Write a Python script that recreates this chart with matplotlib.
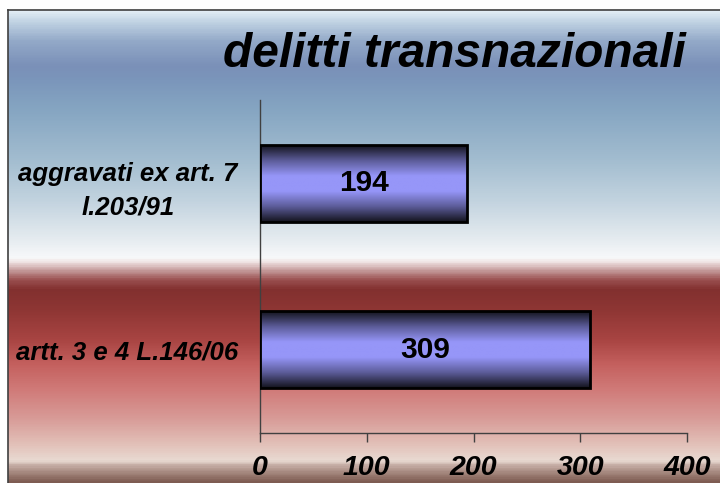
import numpy as np
import matplotlib.pyplot as plt
from matplotlib.colors import LinearSegmentedColormap
from matplotlib.lines import Line2D

categories = ["artt. 3 e 4 L.146/06", "aggravati ex art. 7\nl.203/91"]
values = [309, 194]
xticks = [0, 100, 200, 300, 400]
title = "delitti transnazionali"

W, H = 720, 483
plt.rcParams['font.family'] = ['Liberation Sans', 'DejaVu Sans']
fig = plt.figure(figsize=(W / 100, H / 100), dpi=100)

# background gradient (pixel rows from top of the picture)
bg_stops = [(10, "#e2edf5"), (20, "#c2d4e4"), (40, "#93a9c8"), (65, "#7a90b8"),
            (80, "#7b96bb"), (110, "#86a6c2"), (160, "#a3bdd0"), (200, "#c2d3df"),
            (240, "#e6ecf0"), (258, "#f8f9fa"), (262, "#f0e4e4"), (270, "#c8a0a0"),
            (280, "#9a5050"), (290, "#82302f"), (310, "#8e3634"), (340, "#a84442"),
            (365, "#c4605e"), (390, "#d07a78"), (420, "#d89c98"), (445, "#e2c0b8"),
            (462, "#e9dad2"), (466, "#c8b0a8"), (475, "#a08278"), (483, "#7e5c52")]
bg_cmap = LinearSegmentedColormap.from_list(
    "bg", [((y - 10) / 473, c) for y, c in bg_stops])
bg = fig.add_axes([8 / W, 0, 1 - 8 / W, 1 - 10 / H])
bg.imshow(np.linspace(0, 1, 600).reshape(-1, 1), cmap=bg_cmap, aspect="auto",
          extent=[0, 1, 0, 1], origin="upper")
bg.set_axis_off()
fig.add_artist(Line2D([8 / W, 1], [1 - 10 / H, 1 - 10 / H], color="#404040", lw=1.2))
fig.add_artist(Line2D([8 / W, 8 / W], [0, 1 - 10 / H], color="#404040", lw=1.2))

ax = fig.add_axes([260 / W, (H - 433) / H, 427 / W, 333 / H])
ax.set_facecolor("none")
ypos = np.arange(len(values))
bars = ax.barh(ypos, values, height=0.46, color="none", edgecolor="black",
               linewidth=2, zorder=3)

bar_cmap = LinearSegmentedColormap.from_list(
    "bar", ["#14141e", "#5c5c99", "#9696f8", "#9696f8", "#5c5c99", "#14141e"])
grad = np.linspace(0, 1, 200).reshape(-1, 1)
for b, v in zip(bars, values):
    x0, y0, w, h = b.get_x(), b.get_y(), b.get_width(), b.get_height()
    ax.imshow(grad, cmap=bar_cmap, aspect="auto", extent=[x0, x0 + w, y0, y0 + h],
              zorder=2)
    ax.text(x0 + w / 2, y0 + h / 2, str(v), ha="center", va="center",
            fontsize=21.5, fontweight="bold", zorder=4)

ax.set_xlim(0, 400)
ax.set_ylim(-0.5, 1.5)
ax.set_xticks(xticks)
ax.set_xticklabels([str(t) for t in xticks], fontsize=20.5, fontweight="bold",
                   fontstyle="italic")
ax.set_yticks(ypos)
ax.set_yticklabels(categories, fontsize=18.5, fontweight="bold", fontstyle="italic",
                   multialignment="center", linespacing=1.5)
ax.tick_params(axis="x", direction="out", length=6.5, width=1, color="#404040", pad=9)
ax.tick_params(axis="y", length=0, pad=16)
for s in ["top", "right"]:
    ax.spines[s].set_visible(False)
for s in ["left", "bottom"]:
    ax.spines[s].set_color("#404040")
    ax.spines[s].set_linewidth(1)

fig.text(686 / W, 1 - 67 / H, title, ha="right", va="baseline", fontsize=34.5,
         fontweight="bold", fontstyle="italic")

fig.savefig("out.png", dpi=100)
